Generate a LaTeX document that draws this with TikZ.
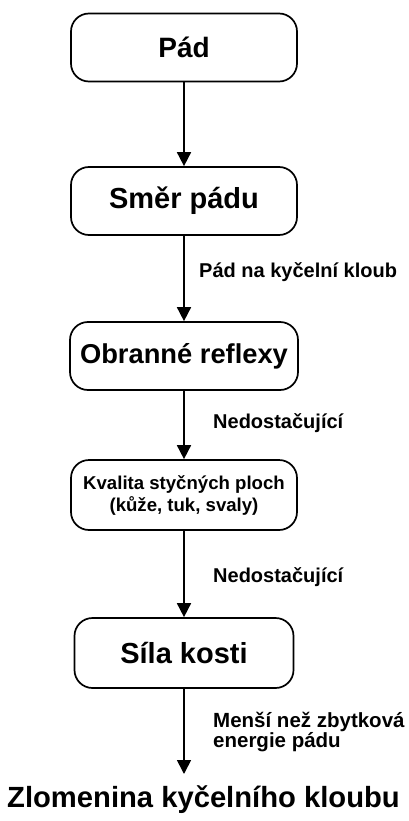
\documentclass[tikz,border=0pt]{standalone}
\usepackage{fontspec}
\setmainfont{Liberation Sans}
\usetikzlibrary{arrows.meta}
\tikzset{
  box/.style={draw, line width=1.7pt, rounded corners=18pt, minimum width=226pt, minimum height=68pt, align=center, inner sep=0pt, font=\bfseries},
  conn/.style={line width=1.7pt, -{Triangle[width=14pt,length=14pt]}},
  lbl/.style={anchor=west, font=\bfseries\fontsize{20}{22}\selectfont, inner sep=0pt, align=left},
}
\begin{document}
\begin{tikzpicture}[x=1pt,y=-1pt]
\useasboundingbox (0,0) rectangle (409,821);
\node[box, font=\bfseries\fontsize{28}{30}\selectfont] (pad) at (184,47.5) {Pád};
\node[box, font=\bfseries\fontsize{29}{30}\selectfont] (smer) at (184,201) {Směr pádu};
\node[box, minimum width=228pt, font=\bfseries\fontsize{27.3}{30}\selectfont] (obr) at (184,356) {Obranné reflexy};
\node[box, minimum height=70pt, font=\bfseries\fontsize{18.6}{22}\selectfont] (kval) at (184,495) {Kvalita styčných ploch\\(kůže, tuk, svaly)};
\node[box, minimum width=219pt, minimum height=70pt, font=\bfseries\fontsize{29}{30}\selectfont] (sila) at (184,653) {Síla kosti};
\node[font=\bfseries\fontsize{29.2}{30}\selectfont, inner sep=0pt] (zlom) at (203.5,800) {Zlomenina kyčelního kloubu};
\coordinate (end) at (184,774);

\draw[conn] (pad) -- (smer);
\draw[conn] (smer) -- (obr);
\draw[conn] (obr) -- (kval);
\draw[conn] (kval) -- (sila);
\draw[conn] (sila) -- (end);

\node[lbl] (l1) at (199,272) {Pád na kyčelní kloub};
\node[lbl] (l2) at (213,423) {Nedostačující};
\node[lbl] (l3) at (213,577) {Nedostačující};
\node[lbl, font=\bfseries\fontsize{20.5}{20}\selectfont] (l4) at (213,732) {Menší než zbytková\\energie pádu};
\end{tikzpicture}
\end{document}
